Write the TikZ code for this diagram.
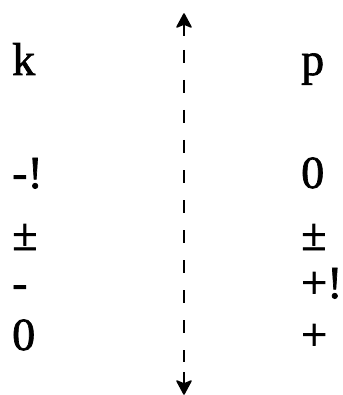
\documentclass[tikz,border=0pt]{standalone}
\usepackage{fontspec}
\setmainfont{Liberation Serif}[FakeBold=1.5]
\begin{document}
\begin{tikzpicture}[x=1pt,y=-1pt,
  lbl/.style={anchor=base west,inner sep=0pt,font=\fontsize{46}{46}\selectfont},
  axis/.style={line width=2.6pt,dash pattern=on 13pt off 17pt},
  stem/.style={line width=2.6pt},
  tip/.style={fill=black,draw=black,line width=1.5pt,line join=round}]
\useasboundingbox (0,0) rectangle (342,395);
\node[lbl] (k) at (12,75) {k};
\node[lbl] (p) at (301,75) {p};
\node[lbl] (l1) at (12,188) {-!};
\node[lbl] (l2) at (12,250) {±};
\node[lbl] (l3) at (12,298) {-};
\node[lbl] (l4) at (12,350) {0};
\node[lbl] (r1) at (301,188) {0};
\node[lbl] (r2) at (301,250) {±};
\node[lbl] (r3) at (301,298) {+!};
\node[lbl] (r4) at (301,350) {+};
\coordinate (top) at (184,14);
\coordinate (bot) at (184,394);
\coordinate (dtop) at (184,50);
\coordinate (dbot) at (184,362);
\draw[axis] (dtop) -- (dbot);
\draw[stem] ([yshift=-10pt]top) -- ([yshift=-22pt]top);
\draw[stem] ([yshift=10pt]bot) -- ([yshift=22pt]bot);
\draw[tip] (top) -- ++(7,13) -- ++(-7,-3) -- ++(-7,3) -- cycle;
\draw[tip] (bot) -- ++(7,-13) -- ++(-7,3) -- ++(-7,-3) -- cycle;
\end{tikzpicture}
\end{document}
